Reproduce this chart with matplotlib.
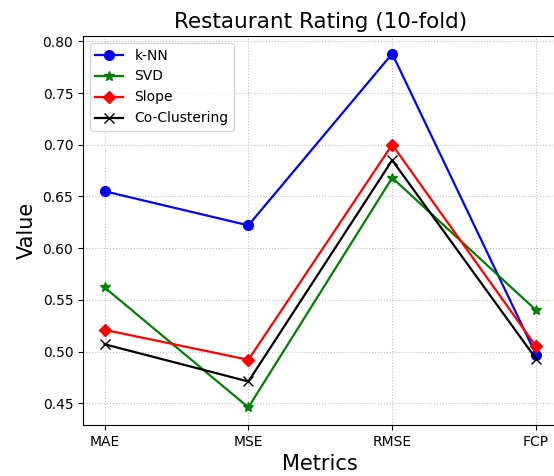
import matplotlib
matplotlib.use("Agg")
import matplotlib.pyplot as plt

# metric scores per algorithm, 10-fold CV on the restaurant ratings
metrics = ["MAE", "MSE", "RMSE", "FCP"]
knn = [0.655, 0.622, 0.788, 0.497]
svd = [0.562, 0.446, 0.668, 0.540]
slope = [0.521, 0.492, 0.700, 0.505]
coclust = [0.507, 0.471, 0.685, 0.493]

fig = plt.figure(figsize=(5.54, 4.76), dpi=100)
ax = fig.add_axes([0.1498, 0.1071, 0.8567, 0.8172])

ax.plot(metrics, knn, color="blue", marker="o", markersize=7, lw=1.6, label="k-NN")
ax.plot(metrics, svd, color="green", marker="*", markersize=7, lw=1.6, label="SVD")
ax.plot(metrics, slope, color="red", marker="D", markersize=6, lw=1.6, label="Slope")
ax.plot(metrics, coclust, color="black", marker="x", markersize=7, lw=1.6, label="Co-Clustering")

ax.set_title("Restaurant Rating (10-fold)", fontsize=15.5)
ax.set_xlabel("Metrics", fontsize=15)
ax.set_ylabel("Value", fontsize=15)
ax.grid(True, linestyle=":", color="0.75")
ax.legend(loc="upper left")

fig.savefig("out.png", dpi=100)
